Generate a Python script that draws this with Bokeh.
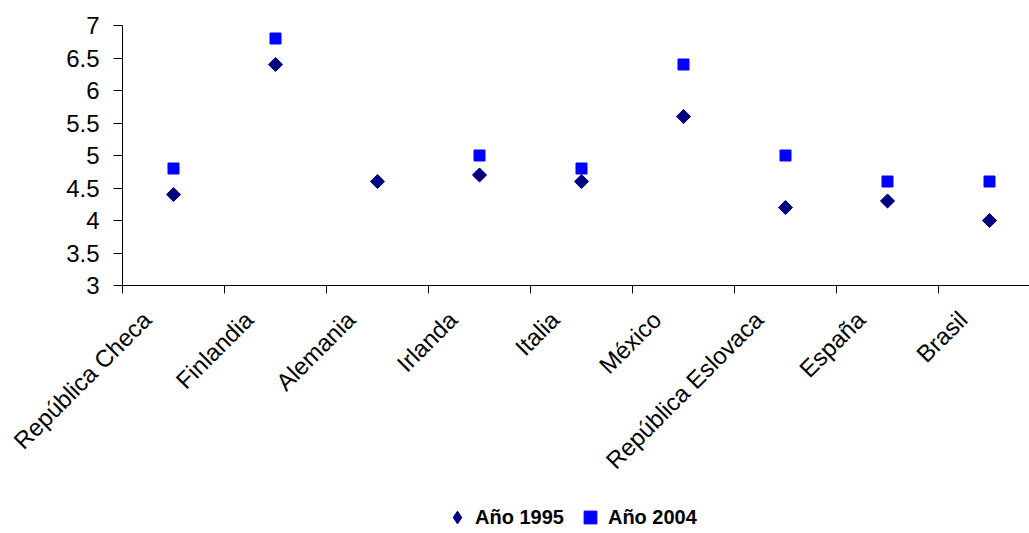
import math
from bokeh.plotting import figure
from bokeh.models import (FixedTicker, CustomJSTickFormatter, ColumnDataSource,
                          Legend, LegendItem, Range1d)
from bokeh.embed import file_html
from bokeh.resources import INLINE

categories = ["República Checa", "Finlandia", "Alemania", "Irlanda", "Italia",
              "México", "República Eslovaca", "España", "Brasil"]
anio_1995 = [4.4, 6.4, 4.6, 4.7, 4.6, 5.6, 4.2, 4.3, 4.0]
anio_2004 = [4.8, 6.8, float("nan"), 5.0, 4.8, 6.4, 5.0, 4.6, 4.6]
y_ticks = [3, 3.5, 4, 4.5, 5, 5.5, 6, 6.5, 7]

W, H = 1029, 533
axis_left_px = 122     # where the y axis sits
axis_top_px = 25       # where y = 7 sits
axis_px = 285          # where y = 3 sits
cat_px = 102.0
y_px = (axis_px - axis_top_px) / 4.0
x_start = -axis_left_px / cat_px
x_end = (W - axis_left_px) / cat_px
y_start = 3 - (H - axis_px) / y_px
y_end = 7 + axis_top_px / y_px

p = figure(width=W, height=H, output_backend="svg", toolbar_location=None,
           x_range=Range1d(x_start, x_end), y_range=Range1d(y_start, y_end),
           min_border_left=0, min_border_right=0,
           min_border_top=0, min_border_bottom=0)
p.outline_line_color = None
p.xgrid.visible = False
p.ygrid.visible = False
p.background_fill_color = "white"
p.border_fill_color = "white"

xs = [i + 0.5 for i in range(len(categories))]
src = ColumnDataSource(dict(x=xs, cat=categories, a=anio_1995, b=anio_2004))

r1 = p.scatter("x", "a", source=src, marker="square", angle=math.pi / 4,
               size=10, fill_color="#000080", line_color="#000080")
r2 = p.scatter("x", "b", source=src, marker="square", size=11,
               fill_color="#0000FF", line_color="#0000FF")
# zero-size twin of the 1995 series, only to give the legend a diamond glyph
r1_key = p.scatter("x", "a", source=src, marker="diamond", size=0,
                   fill_color="#000080", line_color="#000080")

# x axis at y = 3: labels slightly left of the category centres, ticks at boundaries
label_pos = [i + 0.24 for i in range(len(categories))]
xa = p.xaxis[0]
xa.fixed_location = 3
xa.bounds = (0, x_end)
xa.ticker = FixedTicker(ticks=label_pos,
                        minor_ticks=list(range(len(categories) + 1)))
xa.formatter = CustomJSTickFormatter(args=dict(labels=categories),
                                     code="return labels[Math.floor(tick)];")
xa.major_tick_out = 0
xa.major_tick_in = 0
xa.minor_tick_out = 8
xa.minor_tick_in = 0
xa.minor_tick_line_color = "#000000"
xa.axis_line_color = "#000000"
xa.major_label_orientation = math.pi / 4
xa.major_label_text_font = "Liberation Sans"
xa.major_label_text_font_size = "24px"
xa.major_label_text_color = "#000000"
xa.major_label_standoff = 22

# y axis at x = 0
ya = p.yaxis[0]
ya.fixed_location = 0
ya.bounds = (3, 7)
ya.ticker = FixedTicker(ticks=y_ticks, minor_ticks=[])
ya.formatter = CustomJSTickFormatter(code="return tick.toString();")
ya.major_tick_out = 9
ya.major_tick_in = 0
ya.minor_tick_out = 0
ya.minor_tick_in = 0
ya.axis_line_color = "#000000"
ya.major_tick_line_color = "#000000"
ya.major_label_text_font = "Liberation Sans"
ya.major_label_text_font_size = "24px"
ya.major_label_text_color = "#000000"
ya.major_label_standoff = 14

legend = Legend(items=[LegendItem(label="Año 1995", renderers=[r1_key]),
                       LegendItem(label="Año 2004", renderers=[r2])],
                orientation="horizontal", location=(440, 0),
                border_line_color=None, background_fill_alpha=0,
                padding=0, margin=0, spacing=9,
                glyph_width=34, glyph_height=32, label_standoff=1,
                label_text_font="Liberation Sans", label_text_font_style="bold",
                label_text_font_size="20px", label_text_color="#000000",
                label_height=20)
p.add_layout(legend)

open("out.html", "w").write(file_html(p, INLINE))
